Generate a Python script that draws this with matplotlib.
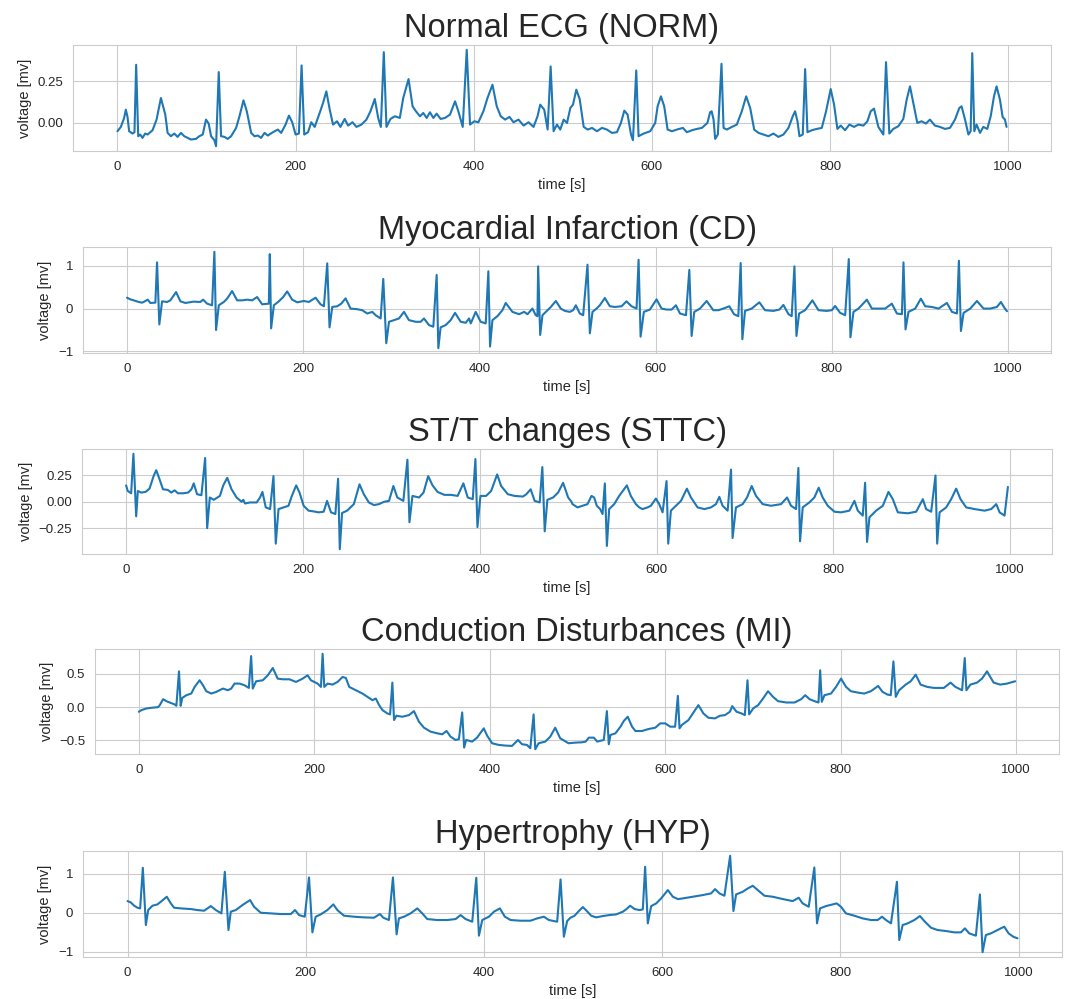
import numpy as np
import matplotlib.pyplot as plt
import seaborn as sns

sns.set_style("whitegrid")
plt.rcParams['font.family'] = ['Liberation Sans', 'DejaVu Sans']

# --- values (time [s], voltage [mv]) ---
norm_t = [0, 3.8, 7.5, 9.4, 11.3, 13.1, 16.9, 19.1, 21, 23.3, 25.5, 28.1, 31.1, 33.8, 39.4, 43.9, 48.8, 53.7, 56.3, 60,
          63.8, 67.5, 71.3, 75, 78.8, 82.5, 88.2, 91.9, 95.7, 99.4, 102.4, 105.1, 108.8, 110.7, 113.7, 116.3, 120.1, 123.8,
          127.6, 133.2, 137, 141.5, 145.2, 150.1, 153.8, 157.6, 161.3, 165.1, 168.8, 174.5, 180.1, 183.8, 188.7, 192.5,
          196.2, 200, 203.7, 206.7, 209.7, 213.9, 217.6, 221.4, 227, 230.8, 234.5, 238.3, 242, 246.5, 250.3, 255.1, 258.9,
          263.8, 268.3, 273.9, 279.5, 284, 288.9, 292.7, 295.7, 299, 302, 306.5, 311.4, 317, 320.8, 326.8, 331.3, 335.1,
          339.6, 343.3, 347.1, 350.8, 354.6, 358.3, 362.8, 367.7, 373.3, 379, 382.7, 387.6, 392.1, 395.8, 400.7, 405.2,
          410.8, 415.4, 421, 425.8, 430.3, 435.2, 440.1, 444.6, 450.2, 455.9, 461.5, 467.1, 471.6, 474.6, 479.1, 482.9,
          486.3, 489.6, 493.4, 497.1,
          500.9, 504.7, 508.4, 511.4, 515.1, 518.9, 523.4, 527.9, 532.7, 538.3, 543.9, 549.5, 555.1, 560.7, 565.2, 569,
          572.7, 576.5, 578.7, 582.4, 585, 590.7, 598.1, 603.7, 606.4, 610.1, 613.8, 617.6, 622.4, 628, 634.8, 639.2,
          644.9, 650.5, 656.1, 662.3, 665.3, 667, 669.2, 671, 674, 678.1, 680.4, 684.1, 689.7, 695.3, 700.9, 705.8, 710.3,
          714.8, 719.6, 725.2, 730.8, 736.4, 742, 747.6, 753.3, 758.1, 760.7, 763.4, 765.6, 769.3, 772, 774.6, 779.5, 785,
          790.7, 795.5, 800.7, 804.5, 808.2, 812, 816.8, 821.7, 826.9, 831.8, 837.4, 841.9, 845.6, 849.3, 854.2, 859.8,
          862.8, 866.5, 871, 876.6, 882.2, 886, 889.7, 894.2, 897.9, 902.8, 907.6, 912.1, 917.7, 923.3, 929, 934.6, 940.2,
          945.1, 947.6, 951.5, 955.3, 957.8, 959.6, 961.9, 964.5, 968.3, 972, 976.5, 980.3, 984, 986.9, 990.7, 993.7,
          996.3, 998.1]
norm_mv = [-0.05, -0.024, 0.03, 0.08, 0.036, -0.05, -0.064, -0.056, 0.35, -0.08, -0.07, -0.09, -0.064, -0.07, -0.044,
           0.02, 0.15, 0.05, -0.06, -0.08, -0.064, -0.084, -0.06, -0.08, -0.09, -0.1, -0.096, -0.08, -0.07, 0.02, -0.004,
           -0.08, -0.104, -0.14, 0.306, -0.08, -0.084, -0.096, -0.08, -0.03, 0.04, 0.136, 0.07, -0.06, -0.08, -0.076,
           -0.09, -0.06, -0.076, -0.056, -0.04, -0.06, -0.01, 0.044, 0.004, -0.07, -0.064, 0.346, -0.07, -0.056, 0.004,
           -0.024, 0.06, 0.12, 0.19, 0.08, -0.01, 0.01, -0.024, 0.024, -0.016, 0.004, -0.024, -0.01, 0.02, 0.07, 0.144,
           0.03, -0.024, 0.426, -0.024, 0.024, 0.04, 0.03, 0.15, 0.264, 0.1, 0.07, 0.04, 0.06, 0.03, 0.064, 0.03, 0.056,
           0.024, 0.03, 0.05, 0.13, 0.07, -0.024, 0.44, -0.01, 0.01, 0.004, 0.07, 0.15, 0.23, 0.1, 0.04, 0.02, 0.036,
           0.004, 0.02, -0.016, 0.004, -0.024, 0.04, 0.11, 0.08, -0.04, 0.34, -0.05, -0.01, -0.04,
           0.02, 0, 0.09, 0.11, 0.2, 0.144, -0.024, -0.04, -0.03, -0.05, -0.03, -0.04, -0.06, -0.056, 0, 0.074, 0.05,
           -0.07, -0.104, 0.316, -0.08, -0.064, -0.05, 0, 0.1, 0.16, 0.1, -0.04, -0.05, -0.04, -0.03, -0.056, -0.044,
           -0.036, -0.03, 0, 0.064, 0.07, 0.02, -0.096, -0.07, 0.356, -0.03, -0.04, -0.024, -0.01, 0.07, 0.16, 0.09,
           -0.04, -0.06, -0.07, -0.08, -0.064, -0.084, -0.07, -0.03, 0.04, 0.07, 0.01, -0.08, -0.07, 0.324, -0.056,
           -0.044, -0.036, -0.03, 0.07, 0.204, 0.11, -0.036, -0.016, -0.044, -0.01, -0.024, -0.01, -0.016, 0.01, 0.07,
           0.086, -0.024, -0.07, 0.366, -0.064, -0.036, -0.02, 0.024, 0.14, 0.22, 0.1, 0, 0.01, -0.004, 0.02, -0.016,
           -0.024, -0.036, -0.03, 0.02, 0.09, 0.1, 0.02, -0.07, -0.05, 0.42, -0.05, -0.01, -0.06, -0.024, -0.036, 0.04,
           0.16, 0.22, 0.14, 0.036, 0.02, -0.024]

cd_t = [0, 3.8, 7.6, 13.3, 17, 18.9, 23.5, 26.5, 32.2, 34.1, 36.7, 39.8, 45.5, 49.2, 55.7, 60.6, 66.3, 75.8, 83.3, 86.4,
        90.9, 96.6, 99.2, 101.1, 104.2, 109.9, 113.6, 119.3, 125, 130.7, 136.4, 142, 147.7, 153.4, 161, 162.1, 163.6,
        166.7, 172.4, 177.3, 181.8, 187.5, 193.2, 200.8, 206.4, 214, 219.7, 223.5, 227.3, 229.9, 233, 238.6, 243.2,
        248.1, 253.8, 261.4, 267, 272.7, 278.4, 282.2, 287.9, 290.9, 294.3, 297.4, 303, 308.7, 314.4, 320, 327.7, 333.3,
        337.1, 342.8, 347.7, 351.5, 353.4, 356, 361.7, 367.4, 372.4, 378.8, 384.5, 388.3, 390.2, 395.8, 401.5, 407.2,
        410.2, 412.1, 414.8, 420.5, 426.1, 429.9, 437.5, 445.1, 450.8, 454.6, 460.2, 464, 465.9, 466.7, 469, 471.6,
        477.3, 481.1, 486.8, 492.4,
        497, 502.6, 506.4, 509.5, 514, 517.8, 522.7, 525.4, 528.4, 533, 536.7, 542.4, 548.1, 553.8, 561.4, 567, 572.7,
        578.4, 580.7, 583, 586.7, 593.6, 601.1, 606.8, 612.5, 618.2, 623.1, 627.7, 634.5, 638.3, 640.9, 643.9, 650.4,
        658, 665.5, 671.2, 676.9, 683.7, 689, 693.9, 696.6, 698.5, 701.5, 709.1, 717.8, 724.2, 733.7, 740.5, 745.1,
        750.8, 754.5, 757.6, 759.9, 762.9, 769.7, 778, 784.9, 794.3, 800, 803.8, 809.5, 815.2, 819.3, 821.2, 824.6,
        830.3, 839.8, 845.5, 853, 860.6, 868.2, 873.9, 879.6, 881.4, 883.7, 887.1, 894.7, 901.1, 906.1, 913.6, 921.2,
        930.7, 936.4, 942.1, 944.3, 946.6, 949.6, 957.2, 964.8, 972.3, 979.9, 987.5, 992, 995.8, 998.9]
cd_mv = [0.254, 0.215, 0.192, 0.154, 0.138, 0.154, 0.208, 0.131, 0.138, 1.077, -0.369, 0.169, 0.154, 0.192, 0.385, 0.169,
         0.131, 0.162, 0.154, 0.208, 0.115, 0.077, 1.323, -0.5, 0.077, 0.154, 0.231, 0.408, 0.192, 0.192, 0.208, 0.192,
         0.269, 0.1, 0.115, 1.269, -0.462, 0.077, 0.169, 0.269, 0.4, 0.208, 0.146, 0.177, 0.154, 0.254, 0.1, 0.054,
         1.054, -0.438, 0.038, 0.054, 0.115, 0.238, 0, -0.015, -0.038, -0.115, -0.077, -0.154, -0.231, 0.692, -0.808,
         -0.308, -0.269, -0.231, -0.077, -0.269, -0.308, -0.308, -0.231, -0.385, -0.423, 0.785, -0.923, -0.438, -0.385,
         -0.269, -0.1, -0.308, -0.331, -0.231, -0.346, -0.077, -0.308, -0.346, 0.869, -0.885, -0.269, -0.177, -0.038,
         0.131, -0.077, -0.131, -0.077, -0.131, 0, -0.154, -0.177, 0.985, -0.615, -0.154, -0.038, 0.038, 0.177, 0,
         -0.054, -0.077, -0.038, 0.077, -0.115, -0.154, 1.023, -0.577, -0.077, 0, 0.077, 0.246, 0.054, 0.038, 0.054,
         0.169, 0.054, 0, 1.138, -0.654, -0.077, -0.023, 0.215, 0, -0.023, -0.023, 0.077, -0.115, -0.154, 0.9, -0.638,
         -0.077, 0, 0.177, -0.038, -0.038, 0, 0.054, -0.131, -0.177, 1.062, -0.715, -0.054, 0, 0.146, -0.038, -0.054,
         -0.023, 0.085, -0.131, -0.177, 0.985, -0.638, -0.115, -0.038, 0.192, -0.038, -0.054, -0.038, 0.062, -0.1,
         -0.154, 1.154, -0.669, -0.077, 0, 0.208, 0, 0, 0, 0.115, -0.115, -0.131, 1.077, -0.485, -0.077, 0, 0.231,
         0.054, 0.038, 0, 0.131, -0.077, -0.115, 1.115, -0.523, -0.1, 0, 0.177, 0, 0, 0.038, 0.154, 0.023, -0.062]

sttc_t = [0, 1.9, 5.7, 8.3, 11.4, 13.3, 17, 22, 26.5, 31.1, 34.1, 37.9, 41.7, 47.3, 51.1, 54.9, 58.7, 64.4, 70.1, 73.9,
          76.5, 80.3, 85.2, 89.4, 91.7, 94.7, 99.2, 106.1, 109.9, 114.4, 119.3, 125, 130.7, 132.6, 134.5, 140.2, 147.7,
          151.5, 154.2, 158, 162.9, 166.7, 169.3, 172.4, 178, 183.7, 187.5, 192.4, 196.2, 200.8, 206.4, 212.1, 217.8,
          223.5, 227.3, 231.8, 236.7, 239.8, 241.7, 244.3, 250, 257.6, 264, 268.9, 274.6, 280.3, 286, 291.7, 297.4,
          302.3, 306.8, 313.6, 318.2, 320.5, 323.9, 331.4, 336.4, 341.7, 346.6, 352.3, 359.9, 367.4, 375, 381.5, 386.4,
          392.1, 395.1, 397.4, 400.8, 407.2, 412.9, 419.7, 424.2, 431.8, 439.4, 448.9, 452.7, 457.6, 462.1, 467.8, 470.8,
          473.5, 476.5, 483, 488.6, 494.3, 500, 503.8,
          504.9, 510.6, 516.2, 521.9, 526.4, 529.4, 532.4, 536.2, 538.9, 541.5, 543.8, 546.4, 552.1, 557.7, 566.4, 570.9,
          576.6, 580.4, 584.1, 589.8, 593.6, 599.2, 603, 606.8, 611.3, 613.2, 616.2, 621.9, 627.6, 634.3, 638.9, 646.4,
          654, 661.5, 667.2, 671, 674.7, 680.4, 684.2, 686, 689.8, 697.4, 702.3, 707.6, 712.5, 720, 729.4, 740.8, 747.6,
          752.1, 757.8, 760.4, 762.3, 765.3, 772.8, 778.5, 783.4, 787.9, 793.6, 801.2, 808.7, 818.1, 823.8, 827.6, 833.2,
          835.9, 838.1, 840.8, 848.3, 855.9, 862.3, 867.2, 872.9, 884.2, 893.6, 901.2, 904.9, 910.6, 915.5, 917.4, 920.1,
          927.6, 933.2, 938.9, 943.8, 950.2, 959.7, 971, 978.5, 984.2, 988, 993.6, 997.4]
sttc_mv = [0.156, 0.103, 0.081, 0.456, -0.1375, 0.103, 0.0875, 0.094, 0.125, 0.244, 0.3, 0.2125, 0.119, 0.1125, 0.0875,
           0.109, 0.081, 0.081, 0.0875, 0.119, 0.175, 0.072, 0.0625, 0.416, -0.25, 0.041, 0.019, 0.056, 0.156, 0.228,
           0.119, 0.041, 0, 0.019, -0.016, -0.006, -0.006, 0.041, 0.094, -0.053, -0.069, 0.244, -0.397, -0.069, -0.053,
           -0.0375, 0.056, 0.156, 0.0875, -0.0375, -0.084, -0.091, -0.1, -0.094, 0.009, -0.1, -0.116, 0.219, -0.45,
           -0.106, -0.084, -0.022, 0.166, 0.072, -0.006, -0.031, -0.022, 0, 0.009, 0.15, 0.041, 0.009, 0.4, -0.194,
           0.056, 0.041, 0.0875, 0.244, 0.156, 0.094, 0.066, 0.066, 0.056, 0.175, 0.041, 0.025, 0.406, -0.24, 0.056,
           0.056, 0.103, 0.26, 0.15, 0.072, 0.056, 0.05, 0.072, 0.119, 0.009, -0.006, 0.33, -0.28, 0.019, 0.041, 0.0875,
           0.18, 0.041, 0,
           -0.022, -0.053, -0.0375, -0.022, 0.056, 0.041, -0.0375, -0.069, -0.116, 0.175, -0.419, -0.069, -0.022, 0.056,
           0.156, 0.056, -0.022, -0.053, -0.069, -0.053, -0.0375, 0.031, -0.022, -0.1, 0.197, -0.397, -0.084, -0.0375,
           0.009, 0.125, 0.041, -0.053, -0.069, -0.053, -0.022, 0.047, -0.0375, -0.084, 0.306, -0.344, -0.053, -0.022,
           0.041, 0.15, 0.056, -0.022, -0.0375, -0.022, 0.041, -0.0375, -0.069, 0.322, -0.375, -0.053, -0.006, 0.041,
           0.134, 0.041, -0.0375, -0.094, -0.1, -0.084, 0.009, -0.084, -0.131, 0.181, -0.381, -0.147, -0.084, -0.0375,
           0.094, 0.025, -0.1, -0.109, -0.094, 0.025, -0.069, -0.094, 0.25, -0.397, -0.1, -0.053, 0.025, 0.125, 0.025,
           -0.053, -0.069, -0.084, -0.069, -0.022, -0.1, -0.131, 0.141]

mi_t = [0, 3, 8.7, 14.4, 22, 23.9, 27.7, 31.4, 35.2, 40.9, 42.8, 45.8, 47.7, 49.6, 54.2, 59.8, 63.6, 69.3, 73.1, 76.9,
        82.6, 88.3, 95.8, 101.5, 105.3, 109.1, 114.8, 120.5, 125.4, 128, 129.9, 133.7, 141.3, 147, 152.7, 158.3, 164,
        171.6, 179.2, 186.7, 192.4, 196.2, 203.8, 207.6, 209.5, 211.4, 215.2, 220.8, 226.5, 232.2, 236, 239.8, 247.4,
        254.9, 260.6, 266.3, 270.1, 273.9, 277.7, 283.3, 286.4, 289, 290.9, 293.6, 300.4, 308, 313.6, 319.3, 325, 332.6,
        340.2, 345.8, 350.8, 355.3, 361, 364.8, 368.6, 370.8, 373.1, 379.9, 385.6, 393.2, 397, 402.7, 410.2, 417.8,
        425.4, 432.2, 436.8, 442.4, 446.2, 450, 451.9, 455.7, 463.3, 469, 474.6, 480.3, 489.8,
        497.9, 505.5, 509.3, 513, 518.7, 522.5, 530, 533.5, 535.7, 537.6, 543.3, 549, 552.7, 557.3, 562.2, 566, 573.5,
        581.1, 588.7, 594.3, 600, 605.7, 611.3, 614.4, 616.3, 618.9, 626.5, 634, 637.8, 643.5, 649.2, 656.7, 662.4,
        668.1, 673.7, 676.4, 681.3, 687, 690.7, 693.8, 695.7, 700.2, 705.9, 711.5, 717.2, 722.9, 728.6, 738, 747.5, 755,
        759.6, 764.5, 770.1, 774.7, 776.6, 778.5, 781.5, 789, 794.7, 800.4, 806.1, 811.7, 819.3, 826.9, 834.4, 842.7,
        847.7, 853.3, 857.1, 860.1, 862.8, 866.6, 874.1, 879.8, 885.5, 891.1, 898.7, 906.3, 917.6, 925.2, 930.8, 938.4,
        941.4, 943.3, 947.9, 955.4, 961.1, 966.8, 974.3, 981.9, 989.5, 998.9]
mi_mv = [-0.07, -0.045, -0.02, -0.01, 0, 0.03, 0.12, 0.09, 0.07, 0.04, 0.02, 0.54, 0.02, 0.14, 0.18, 0.205, 0.305, 0.405,
         0.33, 0.24, 0.205, 0.23, 0.28, 0.255, 0.28, 0.355, 0.355, 0.33, 0.29, 0.77, 0.28, 0.39, 0.405, 0.48, 0.59, 0.43,
         0.42, 0.42, 0.38, 0.43, 0.48, 0.405, 0.355, 0.305, 0.805, 0.305, 0.355, 0.34, 0.38, 0.455, 0.44, 0.305, 0.255,
         0.205, 0.155, 0.105, 0.13, 0.03, -0.045, -0.095, -0.11, 0.37, -0.195, -0.13, -0.145, -0.12, -0.06, -0.22, -0.31,
         -0.37, -0.395, -0.41, -0.36, -0.445, -0.495, -0.485, -0.08, -0.61, -0.495, -0.52, -0.46, -0.32, -0.43, -0.545,
         -0.57, -0.58, -0.585, -0.495, -0.56, -0.57, -0.62, -0.11, -0.635, -0.545, -0.52, -0.445, -0.31, -0.47, -0.545,
         -0.535, -0.53, -0.52, -0.46, -0.46, -0.52, -0.495, -0.06, -0.56, -0.42, -0.395, -0.295, -0.21, -0.145, -0.295,
         -0.36, -0.36, -0.33, -0.31, -0.245, -0.245, -0.295, -0.295, 0.17, -0.32, -0.27, -0.195, -0.045, 0.03, -0.095,
         -0.16, -0.17, -0.13, -0.12, -0.07, 0.015, -0.07, -0.095, -0.12, 0.405, -0.11, -0.02, 0.03, 0.13, 0.24, 0.155,
         0.09, 0.07, 0.07, 0.12, 0.18, 0.12, 0.09, 0.07, 0.555, 0.08, 0.18, 0.205, 0.305, 0.43, 0.305, 0.24, 0.22, 0.205,
         0.24, 0.32, 0.23, 0.19, 0.18, 0.69, 0.155, 0.255, 0.34, 0.39, 0.49, 0.34, 0.305, 0.29, 0.29, 0.37, 0.305, 0.255,
         0.74, 0.255, 0.34, 0.37, 0.43, 0.54, 0.37, 0.34, 0.355, 0.39]

hyp_t = [0, 3.7, 7.5, 11.2, 14.2, 17.2, 20.6, 23.2, 28, 33.6, 37.4, 44.1, 48.6, 52.3, 59.8, 71, 78.5, 86, 93.5, 99.1,
         105.4, 109.2, 113.3, 115.9, 121.5, 129, 137.6, 142, 149.5, 160.7, 171.9, 183.2, 188, 192.5, 198.9, 203.7, 207.5,
         211.2, 216.8, 224.3, 231, 235.5, 243, 254.2, 265.4, 276.6, 283.3, 287.1, 293.4, 297.9, 302, 304.6, 310.3,
         317.7, 325.2, 330.8, 336.4, 347.6, 358.8, 368.2, 373.8, 379.4, 386.9, 391.4, 394.4, 398.1, 405.6, 411.2, 417.9,
         423.5, 429.9, 441.1, 452.3, 459.8, 467.3, 472.9, 482.2, 486, 489.7, 493.4, 497.2,
         501.7, 506.5, 511, 515.5, 520.4, 526, 533.5, 540.9, 548.4, 555.9, 559.6, 564.1, 569, 574.6, 578.3, 580.9, 583.9,
         587.7, 593.3, 598.9, 606.4, 612, 617.6, 623.2, 634.4, 645.6, 654.9, 659.4, 664.3, 669.9, 676.3, 680, 683, 690.5,
         696.1, 701.7, 707.3, 714.8, 724.1, 735.3, 746.5, 753.3, 757.7, 764.5, 770.8, 773.8, 777.2, 783.9, 791.4, 795.9,
         800.7, 806.3, 815.7, 825, 834.4, 841.9, 846.7, 851.2, 856.8, 863.5, 866.1, 869.9, 875.5, 883, 889.3, 894.2,
         901.7, 909.1, 918.5, 927.8, 935.3, 939.8, 944.6, 952.1, 956.6, 959.6, 963.3, 968.9, 976.4, 983.9, 988.8, 994,
         998.8]
hyp_mv = [0.298, 0.264, 0.179, 0.128, 0.111, 1.149, -0.315, 0.068, 0.179, 0.213, 0.281, 0.409, 0.238, 0.128, 0.111,
          0.094, 0.068, 0.051, 0.17, 0.068, -0.017, 1.047, -0.443, 0.026, 0.068, 0.196, 0.323, 0.153, 0, -0.017, -0.034,
          -0.034, 0.068, -0.06, -0.102, 0.902, -0.502, -0.102, -0.043, 0.068, 0.213, 0.068, -0.077, -0.102, -0.119,
          -0.128, -0.034, -0.128, -0.187, 0.902, -0.553, -0.145, -0.102, -0.017, 0.111, -0.017, -0.162, -0.187, -0.187,
          -0.162, -0.06, -0.162, -0.23, 0.894, -0.587, -0.187, -0.102, 0.026, 0.111, -0.102, -0.187, -0.204, -0.204,
          -0.145, -0.102, -0.187, -0.23, 0.851, -0.613, -0.213, -0.128,
          -0.077, 0.043, 0.145, 0.043, -0.077, -0.119, -0.085, -0.06, -0.043, 0.026, 0.085, 0.179, 0.094, 0.068, 0.085,
          1.174, -0.272, 0.17, 0.238, 0.366, 0.579, 0.409, 0.349, 0.366, 0.409, 0.451, 0.494, 0.604, 0.494, 0.434,
          1.455, 0.043, 0.468, 0.536, 0.621, 0.689, 0.579, 0.434, 0.409, 0.349, 0.298, 0.383, 0.238, 0.153, 1.157,
          -0.272, 0.111, 0.17, 0.213, 0.238, 0.153, -0.017, -0.077, -0.145, -0.187, -0.187, -0.102, -0.187, -0.272,
          0.791, -0.698, -0.315, -0.272, -0.187, -0.085, -0.213, -0.383, -0.443, -0.468, -0.502, -0.502, -0.4, -0.528,
          -0.587, 0.468, -1.009, -0.57, -0.528, -0.443, -0.357, -0.528, -0.613, -0.655]

titles = ["Normal ECG (NORM)", "Myocardial Infarction (CD)", "ST/T changes (STTC)",
          "Conduction Disturbances (MI)", "Hypertrophy (HYP)"]
x_ticks = [0, 200, 400, 600, 800, 1000]
y_ticks = [[0.0, 0.25], [-1, 0, 1], [-0.25, 0.0, 0.25], [-0.5, 0.0, 0.5], [-1, 0, 1]]

series = [(norm_t, norm_mv), (cd_t, cd_mv), (sttc_t, sttc_mv), (mi_t, mi_mv), (hyp_t, hyp_mv)]

# axes boxes measured in pixels: left, top, right, bottom
W, H = 1067, 999
boxes_px = [(73, 45, 1051, 151), (83, 247, 1051, 353), (82, 449, 1052, 554),
            (95, 649, 1059, 754), (83, 851, 1062, 957)]

fig = plt.figure(figsize=(W / 100, H / 100), dpi=100)

for i in range(5):
    l, t, r, b = boxes_px[i]
    ax = fig.add_axes([l / W, 1 - b / H, (r - l) / W, (b - t) / H])
    ax.plot(series[i][0], series[i][1], color='#1f77b4', lw=1.5)
    ax.set_title(titles[i], fontsize=23.5, pad=6)
    ax.set_xlabel('time [s]', fontsize=10.5)
    ax.set_ylabel('voltage [mv]', fontsize=10.5)
    ax.set_xticks(x_ticks)
    ax.set_yticks(y_ticks[i])
    ax.tick_params(labelsize=9.5)

fig.savefig('out.png', dpi=100)
